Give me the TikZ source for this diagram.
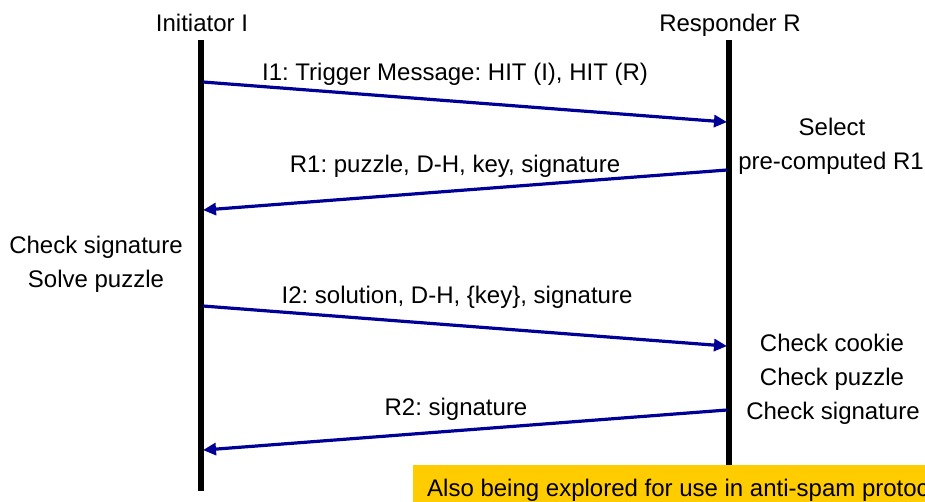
\documentclass[tikz,border=0pt]{standalone}
\usepackage{fontspec}
\setmainfont{Liberation Sans}
\usetikzlibrary{arrows.meta}
\definecolor{msgblue}{RGB}{0,0,150}
\definecolor{noteyellow}{RGB}{255,204,0}
\frenchspacing
\begin{document}
\begin{tikzpicture}[x=1pt,y=-1pt,
  lbl/.style={inner sep=0pt,anchor=base,font=\fontsize{24}{28}\selectfont},
  life/.style={line width=5.5pt,black},
  msg/.style={line width=3.2pt,msgblue,-{Triangle[length=13pt,width=12pt]},shorten >=-1pt}]
\clip (0,0) rectangle (925,501);
\fill[white] (0,0) rectangle (925,501);
% lifelines
\coordinate (Itop) at (201,40);
\coordinate (Ibot) at (201,491);
\coordinate (Rtop) at (729,40);
\coordinate (Rbot) at (729,480);
\draw[life] (Itop) -- (Ibot);
\draw[life] (Rtop) -- (Rbot);
% headers
\node[lbl] (hI) at (202,31) {Initiator I};
\node[lbl] (hR) at (730,31) {Responder R};
% message end points
\coordinate (i1s) at (203,82);  \coordinate (i1e) at (726,122);
\coordinate (r1s) at (727,170); \coordinate (r1e) at (204,210);
\coordinate (i2s) at (203,306); \coordinate (i2e) at (726,346);
\coordinate (r2s) at (727,410); \coordinate (r2e) at (204,450);
\draw[msg] (i1s) -- (i1e);
\draw[msg] (r1s) -- (r1e);
\draw[msg] (i2s) -- (i2e);
\draw[msg] (r2s) -- (r2e);
% message labels
\node[lbl] (l1) at (455,80) {I1: Trigger Message: HIT (I), HIT (R)};
\node[lbl] (l2) at (455,172) {R1: puzzle, D-H, key, signature};
\node[lbl] (l3) at (457,303) {I2: solution, D-H, \{key\}, signature};
\node[lbl] (l4) at (456,415) {R2: signature};
% side notes
\node[lbl] (n1) at (96,253) {Check signature};
\node[lbl] (n2) at (96,287) {Solve puzzle};
\node[lbl] (n3) at (832,135) {Select};
\node[lbl] (n4) at (831,169) {pre-computed R1};
\node[lbl] (n5) at (832,351) {Check cookie};
\node[lbl] (n6) at (832,385) {Check puzzle};
\node[lbl] (n7) at (833,419) {Check signature};
% yellow note
\fill[noteyellow] (413,465) rectangle (940,520);
\node[lbl,anchor=base west] (note) at (427,496) {Also being explored for use in anti-spam protocols};
\end{tikzpicture}
\end{document}
